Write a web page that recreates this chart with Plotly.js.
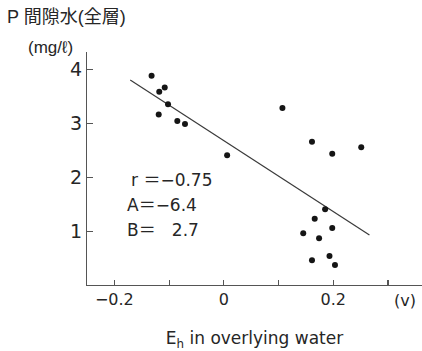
<!DOCTYPE html>
<html>
<head>
<meta charset="utf-8">
<script src="https://cdn.plot.ly/plotly-3.0.1.min.js"></script>
<style>html,body{margin:0;padding:0;background:#fff;}#chart{width:422px;height:351px;}</style>
</head>
<body>
<div id="chart"></div>
<script>
// Data
const ehValues = [-0.132, -0.108, -0.118, -0.102, -0.119, -0.085, -0.071, 0.006, 0.107, 0.161, 0.198, 0.251, 0.185, 0.166, 0.198, 0.145, 0.174, 0.161, 0.193, 0.203];
const pValues  = [3.89, 3.67, 3.59, 3.36, 3.17, 3.05, 2.99, 2.41, 3.29, 2.66, 2.44, 2.56, 1.41, 1.23, 1.06, 0.96, 0.87, 0.46, 0.54, 0.37];
const fitX = [-0.171, 0.266];
const fitY = [3.81, 0.93];
const xTickVals = [-0.2, -0.1, 0, 0.1, 0.2, 0.3];
const xTickText = ["\u22120.2", "", "0", "", "0.2", ""];
const yTickVals = [1, 2, 3, 4];
const yTickText = ["1", "2", "3", "4"];
const statLines = ["r\u00a0＝−0.75", "A＝−6.4", "B＝\u00a0\u00a0\u00a02.7"];

const FONT = "Liberation Sans, Arial, 'Noto Sans CJK JP', sans-serif";
const FONT2 = "'DejaVu Sans', 'Noto Sans CJK JP', sans-serif";
const INK = "#262626";

const traces = [
  {x: fitX, y: fitY, mode: "lines", line: {color: "#3a3a3a", width: 1.2}, hoverinfo: "skip", showlegend: false},
  {x: ehValues, y: pValues, mode: "markers", marker: {color: "#151515", size: 6}, showlegend: false}
];

const L = 87, T = 52, W = 422, H = 351, B = 66;
const pw = W - L, ph = H - T - B;
function px(x){ return (x - L) / pw; }
function py(y){ return (H - B - y) / ph; }

const annotations = [
  {text: "P 間隙水(全層)", x: px(5), y: py(17), xanchor: "left", yanchor: "middle", font: {size: 18}},
  {text: "(mg/ℓ)", x: px(26), y: py(47), xanchor: "left", yanchor: "middle", font: {size: 17}},
  {text: statLines[0], x: px(129), y: py(180), xanchor: "left", yanchor: "middle", font: {size: 17, family: FONT2}},
  {text: statLines[1], x: px(125), y: py(205), xanchor: "left", yanchor: "middle", font: {size: 17, family: FONT2}},
  {text: statLines[2], x: px(125), y: py(230), xanchor: "left", yanchor: "middle", font: {size: 17, family: FONT2}},
  {text: "(v)", x: px(405), y: py(300), xanchor: "center", yanchor: "middle", font: {size: 16, family: FONT2}}
].map(a => Object.assign({xref: "paper", yref: "paper", showarrow: false}, a, {font: Object.assign({family: FONT, color: INK}, a.font)}));

const layout = {
  width: W, height: H,
  margin: {l: L, r: 0, t: T, b: B, pad: 0},
  paper_bgcolor: "#fff", plot_bgcolor: "#fff",
  font: {family: FONT2, color: INK},
  xaxis: {
    range: [-0.25, 0.362], showgrid: false, zeroline: false,
    showline: true, linecolor: "#555", linewidth: 1.2,
    ticks: "inside", ticklen: 5, tickcolor: "#555", tickwidth: 1.2,
    tickmode: "array", tickvals: xTickVals, ticktext: xTickText,
    tickfont: {size: 16, color: INK, family: FONT2},
    title: {text: "E<sub>h</sub> in overlying water", font: {size: 17, color: INK, family: FONT2}, standoff: 26}
  },
  yaxis: {
    range: [0, 4.33], showgrid: false, zeroline: false,
    showline: true, linecolor: "#555", linewidth: 1.2,
    ticks: "inside", ticklen: 6, tickcolor: "#555", tickwidth: 1.2,
    tickmode: "array", tickvals: yTickVals, ticktext: yTickText,
    tickfont: {size: 19, color: INK, family: FONT2}
  },
  annotations: annotations
};

Plotly.newPlot("chart", traces, layout, {staticPlot: true, displayModeBar: false});
</script>
</body>
</html>
